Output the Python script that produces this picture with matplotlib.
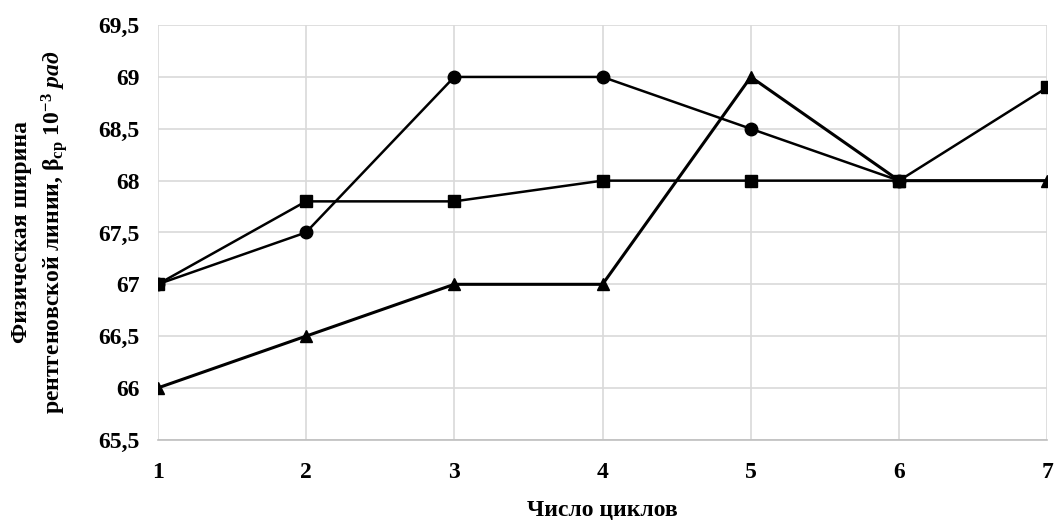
import matplotlib
matplotlib.use('Agg')
import matplotlib.pyplot as plt

# Данные
cycles = [1, 2, 3, 4, 5, 6, 7]
circles = [67, 67.5, 69, 69, 68.5, 68]
squares = [67, 67.8, 67.8, 68, 68, 68, 68.9]
triangles = [66, 66.5, 67, 67, 69, 68, 68]
y_ticks = [65.5, 66, 66.5, 67, 67.5, 68, 68.5, 69, 69.5]
y_tick_labels = ['65,5', '66', '66,5', '67', '67,5', '68', '68,5', '69', '69,5']

plt.rcParams['font.family'] = ['Liberation Serif', 'DejaVu Serif']
plt.rcParams['font.weight'] = 'bold'
plt.rcParams['mathtext.fontset'] = 'custom'
plt.rcParams['mathtext.rm'] = 'Liberation Serif:bold'
plt.rcParams['mathtext.it'] = 'Liberation Serif:italic:bold'
plt.rcParams['mathtext.bf'] = 'Liberation Serif:bold'

fig = plt.figure(figsize=(10.58, 5.23), dpi=100)
ax = fig.add_axes([0.149, 0.159, 0.841, 0.793])

ax.plot(cycles[:len(circles)], circles, color='black', lw=1.8, marker='o', ms=9, zorder=3)
ax.plot(cycles, squares, color='black', lw=1.8, marker='s', ms=8, zorder=3)
ax.plot(cycles, triangles, color='black', lw=2.2, marker='^', ms=9, zorder=3)

ax.set_xlim(1, 7)
ax.set_ylim(65.5, 69.5)
ax.set_xticks(cycles)
ax.set_xticklabels([str(c) for c in cycles])
ax.set_yticks(y_ticks)
ax.set_yticklabels(y_tick_labels)
ax.tick_params(axis='both', length=0, labelsize=17)
ax.tick_params(axis='x', pad=16)
ax.tick_params(axis='y', pad=13)

ax.grid(True, color='#d9d9d9', lw=1.2)
ax.set_axisbelow(True)
for s in ['top', 'right', 'left']:
    ax.spines[s].set_visible(False)
ax.spines['bottom'].set_color('#bfbfbf')
ax.spines['bottom'].set_linewidth(1.2)

ax.set_xlabel('Число циклов', fontsize=17, fontweight='bold', labelpad=12)
ax.set_ylabel('Физическая ширина\n' + r'рентгеновской линии, β$_{\mathrm{ср}}$ 10$^{-3}$ $\it{рад}$',
              fontsize=17, fontweight='bold', labelpad=20, linespacing=1.35)

fig.savefig('out.png', dpi=100)
